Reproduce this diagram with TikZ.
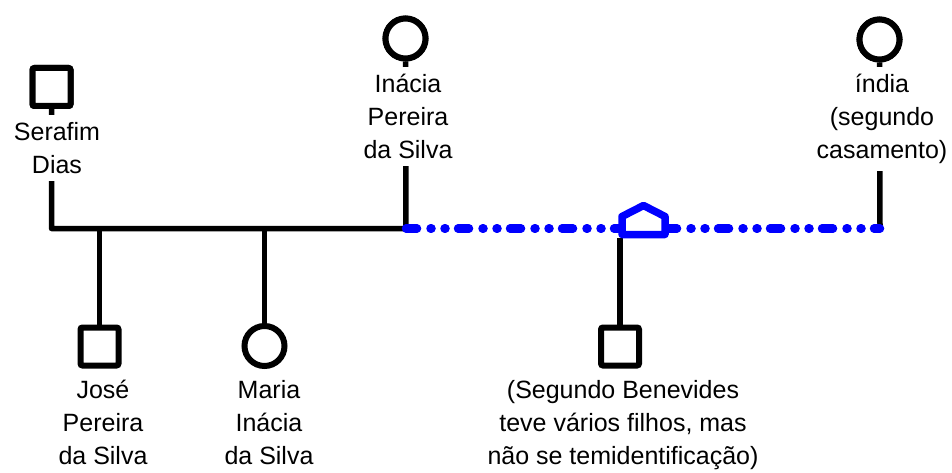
\documentclass[tikz,border=0pt]{standalone}
\usepackage{fontspec}
\setmainfont{Liberation Sans}
\begin{document}
\begin{tikzpicture}[x=1pt,y=-1pt,
  kin/.style={line width=5.5pt, line join=round},
  male/.style={draw, rectangle, rounded corners=2pt, line width=6pt, minimum size=38pt, inner sep=0pt, fill=white},
  female/.style={draw, circle, line width=6pt, minimum size=40pt, inner sep=0pt, fill=white},
  lbl/.style={align=center, font=\fontsize{25}{33}\selectfont, inner xsep=1pt, inner ysep=7pt, fill=white, anchor=north},
  lbllow/.style={align=center, font=\fontsize{25}{33}\selectfont, inner sep=0pt, anchor=north},
  union/.style={draw=blue, line width=8.5pt, line cap=round, dash pattern=on 11pt off 13.5pt on 1pt off 13pt on 1pt off 12.5pt},
  house/.style={draw=blue, line width=7.5pt, fill=white, line join=round}
]
\useasboundingbox (0,0) rectangle (952,473);

% persons
\node[male]   (ser) at (51.5,87) {};
\node[female] (ina) at (405.5,38.5) {};
\node[female] (ind) at (879.5,39.5) {};
\node[male]   (jos) at (99.5,346.5) {};
\node[female] (mar) at (264.5,346) {};
\node[male]   (seg) at (620,346.5) {};

% junctions
\coordinate (jS) at (51.5,228.5);
\coordinate (jI) at (406,228.5);
\coordinate (jJ) at (99.5,228.5);
\coordinate (jM) at (264.5,228.5);
\coordinate (jD) at (880,228.5);
\coordinate (hb) at (620,238);

% black lines
\draw[kin] (ser.south) -- (jS) -- (jI) -- (ina.south);
\draw[kin] (jJ) -- (jos.north);
\draw[kin] (jM) -- (mar.north);
\draw[kin] (ind.south) -- (jD);
\draw[kin] (hb) -- (seg.north);

% second union (blue)
\draw[union] (jI) -- (jD);
\draw[house] (622,234.5) -- (622,216.5) -- (643.5,205.5) -- (665,216.5) -- (665,234.5) -- cycle;

% redraw shapes on top
\node[male]   at (ser) {};
\node[female] at (ina) {};
\node[female] at (ind) {};

% labels
\node[lbl] (lser) at (57,115) {Serafim\\Dias};
\node[lbl] (lina) at (408,67) {Inácia\\Pereira\\da Silva};
\node[lbl] (lind) at (882,67) {índia\\(segundo\\casamento)};
\node[lbllow] (ljos) at (103,380) {José\\Pereira\\da Silva};
\node[lbllow] (lmar) at (269,380) {Maria\\Inácia\\da Silva};
\node[lbllow] (lseg) at (623,380) {(Segundo Benevides\\teve vários filhos, mas\\não se temidentificação)};
\end{tikzpicture}
\end{document}
